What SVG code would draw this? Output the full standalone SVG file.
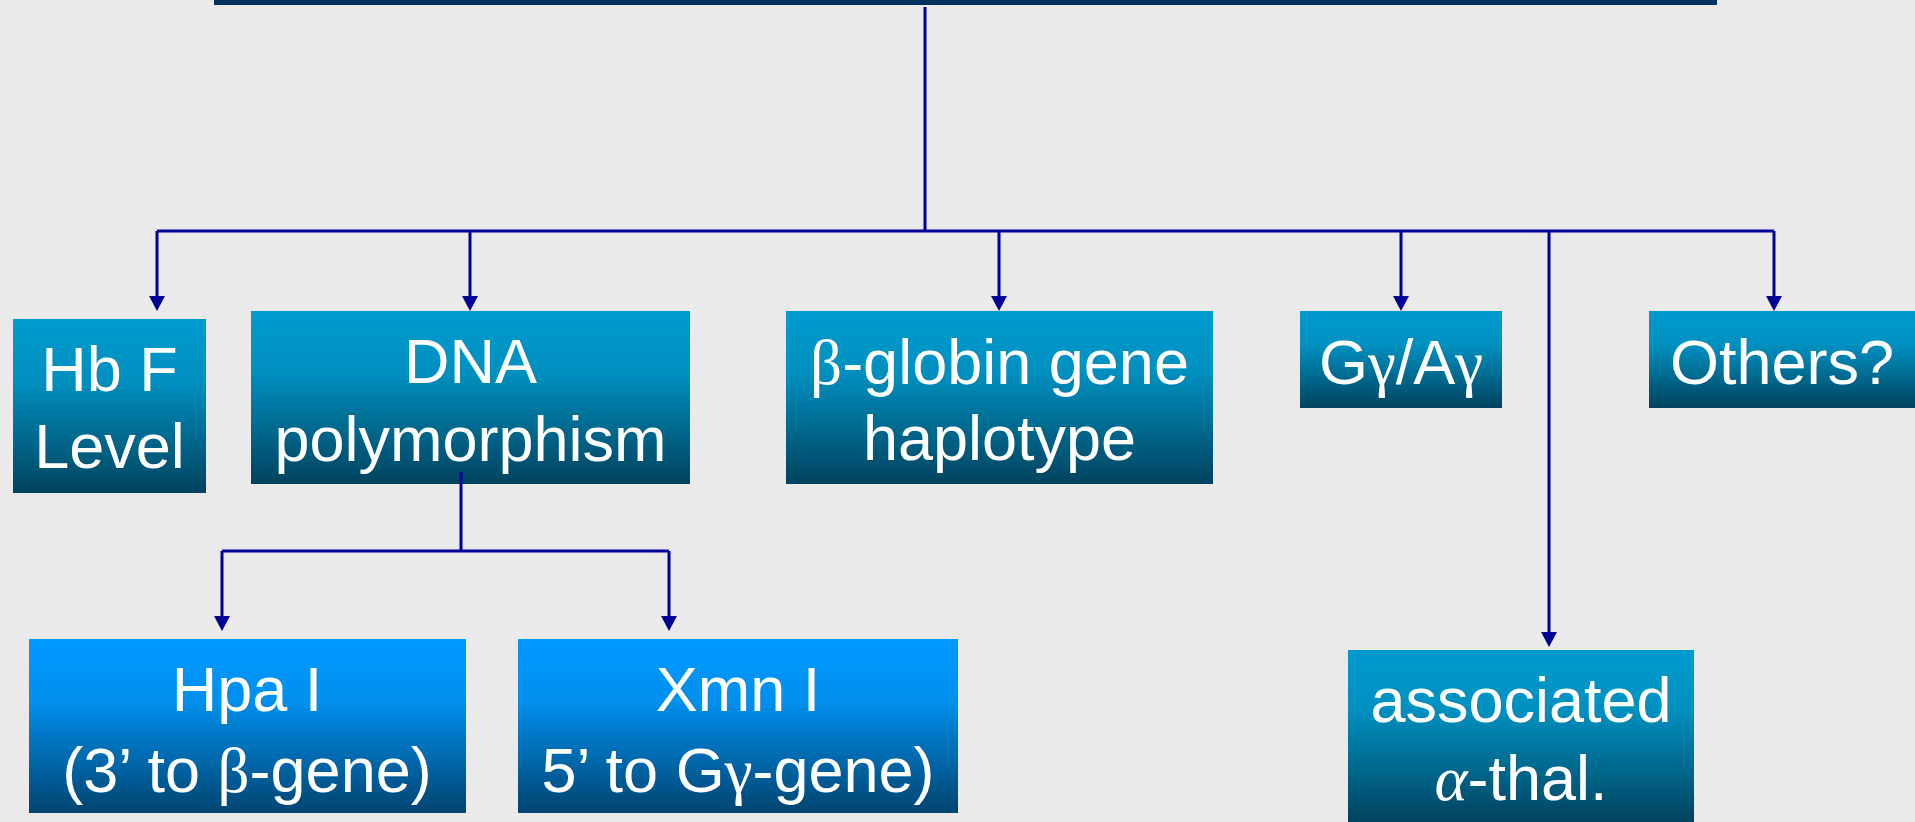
<svg xmlns="http://www.w3.org/2000/svg" width="1915" height="822" viewBox="0 0 1915 822">
<defs>
<linearGradient id="gTeal" x1="0" y1="0" x2="0" y2="1">
<stop offset="0" stop-color="#009BCE"/>
<stop offset="0.35" stop-color="#0090C0"/>
<stop offset="1" stop-color="#00435E"/>
</linearGradient>
<linearGradient id="gBlue" x1="0" y1="0" x2="0" y2="1">
<stop offset="0" stop-color="#0099FF"/>
<stop offset="0.35" stop-color="#0090EE"/>
<stop offset="1" stop-color="#004470"/>
</linearGradient>
<marker id="arr" viewBox="0 0 15 16" refX="0" refY="8" markerWidth="15" markerHeight="16" markerUnits="userSpaceOnUse" orient="auto">
<path d="M0,0 L15,8 L0,16 Z" fill="#000099"/>
</marker>
<style>
.bg{fill:#EAEAEA}
.teal{fill:url(#gTeal)}
.blue{fill:url(#gBlue)}
.t{font-family:"Liberation Sans",Arial,sans-serif;font-size:63px;fill:#FFFFFF;text-anchor:middle}
.g{font-family:"Liberation Serif","Times New Roman",serif}
.c{fill:none;stroke:#000099;stroke-width:3}
.ca{fill:none;stroke:#000099;stroke-width:3;marker-end:url(#arr)}
</style>
</defs>
<rect class="bg" x="0" y="0" width="1915" height="822"/>
<rect x="214" y="0" width="1503" height="5" fill="#003060"/>
<g id="connectors">
<path class="c" d="M925,7 V231"/>
<path class="c" d="M157,231 H1774"/>
<path class="ca" d="M157,231 V296"/>
<path class="ca" d="M470,231 V296"/>
<path class="ca" d="M999,231 V296"/>
<path class="ca" d="M1401,231 V296"/>
<path class="ca" d="M1549,231 V632"/>
<path class="ca" d="M1774,231 V296"/>
<path class="c" d="M461,472 V551"/>
<path class="c" d="M222,551 H669"/>
<path class="ca" d="M222,551 V616"/>
<path class="ca" d="M669,551 V616"/>
</g>
<g id="hbf">
<rect class="teal" x="13" y="319" width="193" height="174"/>
<text class="t" x="109.5" y="391">Hb F</text>
<text class="t" x="109.5" y="468">Level</text>
</g>
<g id="dna">
<rect class="teal" x="251" y="311" width="439" height="173"/>
<text class="t" x="470.5" y="383">DNA</text>
<text class="t" x="470.5" y="461">polymorphism</text>
</g>
<g id="dna-stub">
<path class="c" d="M461,472 V484"/>
</g>
<g id="beta">
<rect class="teal" x="786" y="311" width="427" height="173"/>
<text class="t" x="999.5" y="384"><tspan class="g">β</tspan>-globin gene</text>
<text class="t" x="999.5" y="460">haplotype</text>
</g>
<g id="gamma">
<rect class="teal" x="1300" y="311" width="202" height="97"/>
<text class="t" x="1401" y="384">G<tspan class="g">γ</tspan>/A<tspan class="g">γ</tspan></text>
</g>
<g id="others">
<rect class="teal" x="1649" y="311" width="266" height="97"/>
<text class="t" x="1782" y="384">Others?</text>
</g>
<g id="alpha">
<rect class="teal" x="1348" y="650" width="346" height="172"/>
<text class="t" x="1521" y="722">associated</text>
<text class="t" x="1521" y="800"><tspan class="g" font-style="italic">α</tspan>-thal.</text>
</g>
<g id="hpa">
<rect class="blue" x="29" y="639" width="437" height="174"/>
<text class="t" x="247" y="711">Hpa I</text>
<text class="t" x="247" y="792">(3’ to <tspan class="g">β</tspan>-gene)</text>
</g>
<g id="xmn">
<rect class="blue" x="518" y="639" width="440" height="174"/>
<text class="t" x="738" y="711">Xmn I</text>
<text class="t" x="738" y="792">5’ to G<tspan class="g">γ</tspan>-gene)</text>
</g>
</svg>
